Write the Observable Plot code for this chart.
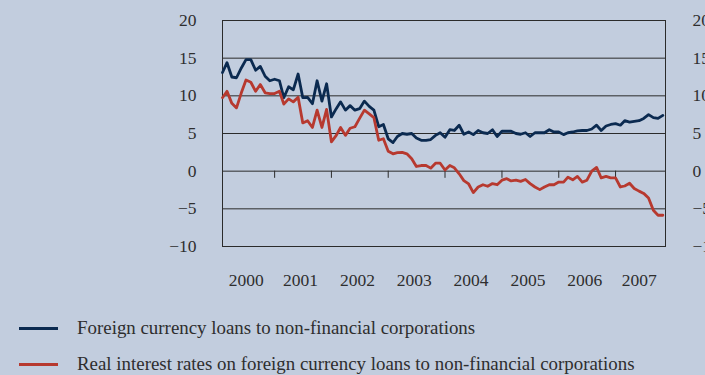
<!DOCTYPE html>
<html>
<head>
<meta charset="utf-8">
<script src="https://cdn.jsdelivr.net/npm/d3@7"></script>
<script src="https://cdn.jsdelivr.net/npm/@observablehq/plot@0.6"></script>
<style>
  html, body { margin: 0; padding: 0; background: #c2cdde; }
  body { width: 705px; height: 375px; overflow: hidden; color: #2e2e2e; }
  #chart svg { display: block; }
  #chart svg text { font-family: "Liberation Serif" !important; font-size: 17.5px; fill: #2e2e2e; }
  .legend { position: relative; height: 75px; }
  .row { position: absolute; left: 0; height: 22px; display: flex; align-items: center; white-space: nowrap; }
  .lbl { font-family: "Liberation Serif" !important; font-size: 18.9px; line-height: 22px; color: #2e2e2e; }
  .swatch { width: 39px; height: 3px; margin-left: 19px; margin-right: 19px; }
</style>
</head>
<body>
<div id="chart"></div>
<div class="legend">
  <div class="row" style="top:17px"><span class="swatch" style="background:#0b2a50"></span><span class="lbl">Foreign currency loans to non-financial corporations</span></div>
  <div class="row" style="top:53px"><span class="swatch" style="background:#b7392f"></span><span class="lbl">Real interest rates on foreign currency loans to non-financial corporations</span></div>
</div>
<script>
const startMonth = [2000, 2];
const endMonth = [2007, 11];

const foreignLoans = [
  13.1, 14.4, 12.5, 12.4, 13.7, 14.8, 14.8, 13.4, 13.9, 12.6, 12.0,
  12.2, 12.0, 9.75, 11.2, 10.8, 12.9, 9.75, 9.8, 8.95, 12.0, 9.3, 11.6,
  7.2, 8.3, 9.2, 8.1, 8.7, 8.1, 8.3, 9.3, 8.6, 8.1, 5.9, 6.2,
  4.3, 3.8, 4.6, 5.0, 4.9, 5.0, 4.4, 4.1, 4.1, 4.2, 4.75, 5.1,
  4.5, 5.5, 5.4, 6.1, 4.9, 5.2, 4.85, 5.4, 5.1, 5.0, 5.5, 4.6,
  5.3, 5.3, 5.3, 5.0, 4.9, 5.1, 4.6, 5.1, 5.1, 5.1, 5.5, 5.2,
  5.2, 4.85, 5.1, 5.2, 5.35, 5.4, 5.4, 5.6, 6.1, 5.4, 6.0, 6.2,
  6.3, 6.1, 6.7, 6.5, 6.6, 6.7, 7.0, 7.5, 7.1, 7.0, 7.4
];
const realRates = [
  9.75, 10.6, 9.0, 8.4, 10.4, 12.1, 11.8, 10.6, 11.5, 10.4, 10.3,
  10.3, 10.6, 8.9, 9.6, 9.2, 9.8, 6.4, 6.7, 5.8, 8.1, 5.8, 8.2,
  3.9, 4.75, 5.8, 4.75, 5.7, 5.9, 7.0, 8.1, 7.6, 7.1, 4.1, 4.3,
  2.65, 2.3, 2.45, 2.5, 2.3, 1.65, 0.62, 0.75, 0.75, 0.4, 1.06, 1.06,
  0.15, 0.75, 0.45, -0.35, -1.25, -1.7, -2.85, -2.1, -1.8, -2.0, -1.65, -1.8,
  -1.2, -1.0, -1.3, -1.2, -1.35, -1.1, -1.65, -2.1, -2.45, -2.1, -1.8, -1.8,
  -1.45, -1.45, -0.8, -1.15, -0.7, -1.45, -1.2, 0.0, 0.5, -0.9, -0.7, -0.88,
  -0.88, -2.1, -1.97, -1.6, -2.3, -2.65, -2.95, -3.55, -5.2, -5.85, -5.85
];
const yearLabels = [2000, 2001, 2002, 2003, 2004, 2005, 2006, 2007];
const yTicks = [-10, -5, 0, 5, 10, 15, 20];
const seriesNames = [
  "Foreign currency loans to non-financial corporations",
  "Real interest rates on foreign currency loans to non-financial corporations"
];
const seriesColors = ["#0b2a50", "#b7392f"];

const firstDate = new Date(Date.UTC(startMonth[0], startMonth[1] - 1, 1));
const lastDate = new Date(Date.UTC(endMonth[0], endMonth[1] - 1, 1));
const months = d3.utcMonth.range(firstDate, d3.utcMonth.offset(lastDate, 1));
const rows = [];
months.forEach((d, i) => {
  rows.push({date: d, value: foreignLoans[i], series: seriesNames[0]});
  rows.push({date: d, value: realRates[i], series: seriesNames[1]});
});
const xDomain = [firstDate, d3.utcDay.offset(lastDate, 17)];
const yearStarts = yearLabels.slice(1).map(y => new Date(Date.UTC(y, 0, 1)));
const labelPos = yearLabels.map(y => {
  const a = Math.max(+new Date(Date.UTC(y, 0, 1)), +firstDate);
  const b = Math.min(+new Date(Date.UTC(y, 11, 1)), +lastDate);
  return new Date((a + b) / 2);
});

const chart = Plot.plot({
  width: 705, height: 300,
  marginLeft: 222, marginRight: 40, marginTop: 20, marginBottom: 54,
  style: {background: "transparent", fontFamily: "Liberation Serif", fontSize: "17.5px", color: "#2e2e2e", overflow: "visible"},
  x: {type: "utc", domain: xDomain},
  y: {domain: [-10, 20]},
  color: {domain: seriesNames, range: seriesColors},
  marks: [
    Plot.ruleY(yTicks, {stroke: "#2b2b2b", strokeWidth: 1}),
    Plot.frame({stroke: "#2b2b2b", strokeWidth: 1}),
    Plot.ruleX(yearStarts, {y1: 0, y2: -0.95, stroke: "#2b2b2b", strokeWidth: 1}),
    Plot.axisY(yTicks, {anchor: "left", tickSize: 0, tickPadding: 26, label: null}),
    Plot.axisY(yTicks, {anchor: "right", tickSize: 0, tickPadding: 27, label: null}),
    Plot.axisX(labelPos, {anchor: "bottom", tickSize: 0, tickPadding: 27, tickFormat: d => d3.utcFormat("%Y")(d), label: null}),
    Plot.lineY(rows, {x: "date", y: "value", z: "series", stroke: "series", strokeWidth: 2.8, strokeLinejoin: "round"})
  ]
});
document.getElementById("chart").appendChild(chart);
</script>
</body>
</html>
